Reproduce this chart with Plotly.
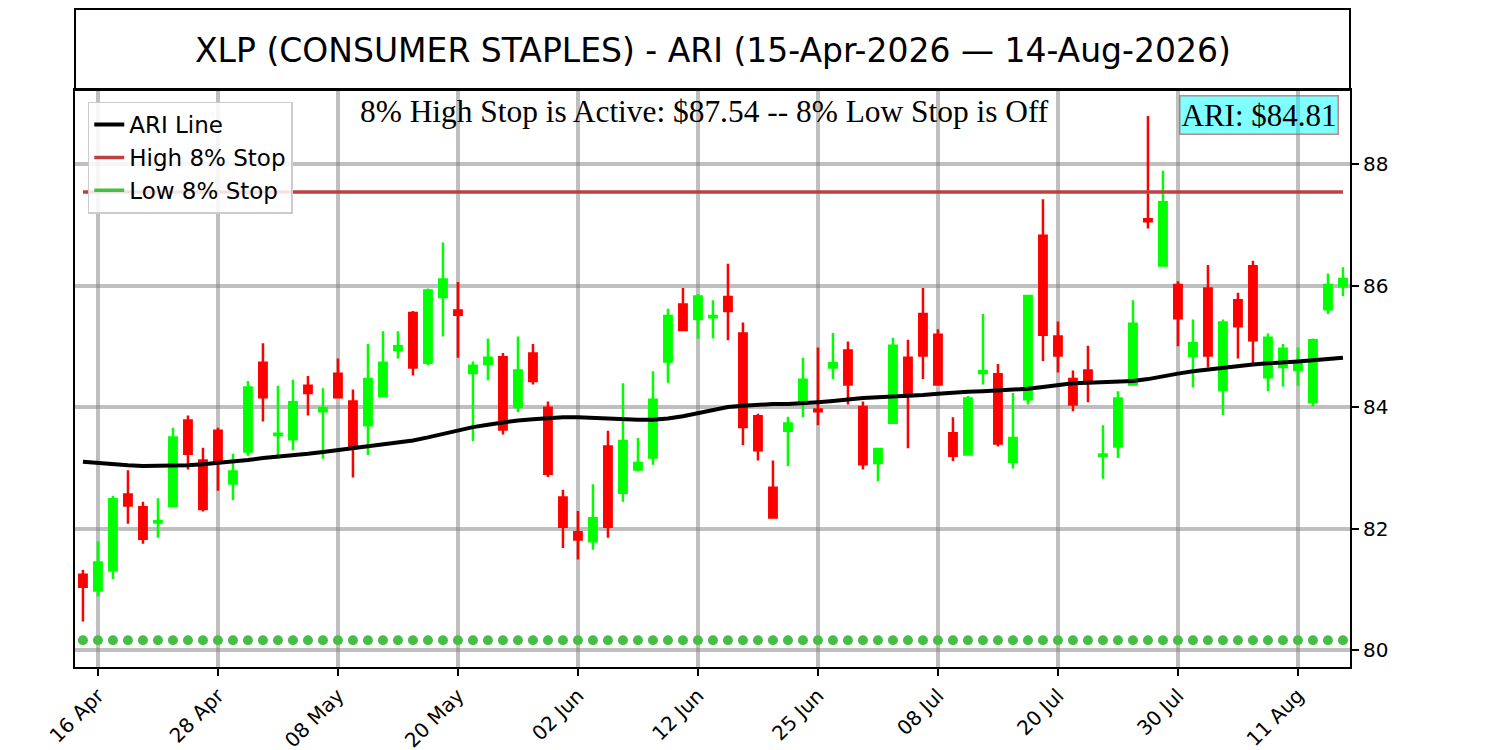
import plotly.graph_objects as go

dates = [
    "2026-04-15", "2026-04-16", "2026-04-17", "2026-04-20", "2026-04-21", "2026-04-22",
    "2026-04-23", "2026-04-24", "2026-04-27", "2026-04-28", "2026-04-29", "2026-04-30",
    "2026-05-01", "2026-05-04", "2026-05-05", "2026-05-06", "2026-05-07", "2026-05-08",
    "2026-05-11", "2026-05-12", "2026-05-13", "2026-05-14", "2026-05-15", "2026-05-18",
    "2026-05-19", "2026-05-20", "2026-05-21", "2026-05-22", "2026-05-26", "2026-05-27",
    "2026-05-28", "2026-05-29", "2026-06-01", "2026-06-02", "2026-06-03", "2026-06-04",
    "2026-06-05", "2026-06-08", "2026-06-09", "2026-06-10", "2026-06-11", "2026-06-12",
    "2026-06-15", "2026-06-16", "2026-06-17", "2026-06-18", "2026-06-22", "2026-06-23",
    "2026-06-24", "2026-06-25", "2026-06-26", "2026-06-29", "2026-06-30", "2026-07-01",
    "2026-07-02", "2026-07-06", "2026-07-07", "2026-07-08", "2026-07-09", "2026-07-10",
    "2026-07-13", "2026-07-14", "2026-07-15", "2026-07-16", "2026-07-17", "2026-07-20",
    "2026-07-21", "2026-07-22", "2026-07-23", "2026-07-24", "2026-07-27", "2026-07-28",
    "2026-07-29", "2026-07-30", "2026-07-31", "2026-08-03", "2026-08-04", "2026-08-05",
    "2026-08-06", "2026-08-07", "2026-08-10", "2026-08-11", "2026-08-12", "2026-08-13",
    "2026-08-14",
]

opens = [
    81.24, 80.98, 81.31, 82.56, 82.35, 82.10, 82.37, 83.78, 83.12, 83.61,
    82.74, 83.27, 84.73, 83.54, 83.47, 84.35, 83.93, 84.55, 84.09, 83.70,
    84.18, 84.94, 85.55, 84.73, 85.81, 85.59, 84.56, 84.71, 84.82, 84.00,
    84.88, 83.99, 82.51, 81.94, 81.79, 83.35, 82.59, 82.97, 83.17, 84.75,
    85.69, 85.45, 85.48, 85.81, 85.21, 83.85, 82.67, 83.61, 84.06, 83.96,
    84.65, 84.93, 84.00, 83.08, 83.74, 84.81, 85.53, 85.19, 83.57, 83.22,
    84.56, 84.54, 83.10, 84.13, 86.82, 85.16, 84.46, 84.60, 83.20, 83.35,
    84.37, 87.09, 86.33, 86.01, 84.84, 85.95, 84.28, 85.76, 86.32, 84.49,
    84.66, 84.61, 84.08, 85.61, 85.99,
]
highs = [
    81.32, 81.79, 82.54, 82.96, 82.44, 82.50, 83.66, 83.86, 83.33, 83.66,
    83.23, 84.43, 85.05, 84.35, 84.45, 84.51, 84.31, 84.80, 84.29, 85.04,
    85.25, 85.25, 85.58, 85.95, 86.71, 86.06, 84.75, 85.13, 84.89, 85.16,
    85.04, 84.09, 82.64, 82.29, 82.73, 83.61, 84.39, 83.49, 84.59, 85.62,
    85.96, 85.86, 85.76, 86.36, 85.39, 83.89, 83.12, 83.84, 84.81, 84.98,
    85.22, 85.08, 84.09, 83.31, 85.14, 85.11, 85.96, 85.28, 83.83, 84.18,
    85.53, 84.71, 84.23, 85.83, 87.42, 85.41, 84.60, 85.01, 83.70, 84.26,
    85.76, 88.79, 87.89, 86.07, 85.44, 86.34, 85.44, 85.88, 86.41, 85.21,
    85.04, 84.98, 85.13, 86.20, 86.30,
]
lows = [
    80.47, 80.88, 81.17, 82.08, 81.75, 81.85, 82.35, 82.97, 82.28, 82.62,
    82.47, 83.20, 83.76, 83.15, 83.29, 83.86, 83.15, 84.15, 82.84, 83.21,
    84.16, 84.80, 84.52, 84.69, 85.16, 84.81, 83.44, 84.44, 83.55, 83.92,
    84.37, 82.85, 81.68, 81.49, 81.65, 81.85, 82.44, 82.94, 83.05, 84.40,
    85.25, 85.13, 85.13, 85.10, 83.37, 83.12, 82.16, 83.03, 83.83, 83.70,
    84.46, 84.04, 82.97, 82.78, 83.73, 83.32, 84.46, 84.35, 83.11, 83.20,
    84.37, 83.35, 82.99, 84.04, 84.76, 84.57, 83.93, 84.08, 82.82, 83.16,
    84.36, 86.94, 86.32, 85.00, 84.32, 84.65, 83.87, 84.80, 84.71, 84.26,
    84.34, 84.35, 84.01, 85.53, 85.83,
]
closes = [
    81.04, 81.44, 82.48, 82.38, 81.83, 82.12, 83.50, 83.23, 82.32, 83.11,
    82.94, 84.32, 84.16, 83.56, 84.08, 84.23, 83.98, 84.16, 83.35, 84.46,
    84.73, 85.00, 84.65, 85.92, 86.10, 85.52, 84.68, 84.81, 83.63, 84.60,
    84.43, 82.90, 82.03, 81.82, 82.17, 82.03, 83.44, 83.08, 84.12, 85.50,
    85.27, 85.82, 85.50, 85.58, 83.67, 83.29, 82.18, 83.73, 84.45, 83.93,
    84.72, 84.37, 83.06, 83.31, 85.01, 84.18, 84.85, 84.37, 83.20, 84.14,
    84.59, 83.40, 83.49, 85.83, 85.19, 84.85, 84.04, 84.40, 83.22, 84.14,
    85.37, 87.06, 87.37, 85.46, 85.05, 84.85, 85.39, 85.33, 85.10, 85.14,
    84.96, 84.71, 85.10, 86.01, 86.11,
]
ari_line = [
    83.10, 83.08, 83.05, 83.04, 83.03, 83.03, 83.03, 83.04, 83.06, 83.08,
    83.10, 83.13, 83.16, 83.18, 83.20, 83.23, 83.26, 83.29, 83.32, 83.35,
    83.38, 83.41, 83.45, 83.50, 83.56, 83.62, 83.67, 83.71, 83.75, 83.78,
    83.80, 83.82, 83.83, 83.83, 83.82, 83.80, 83.79, 83.79, 83.79, 83.81,
    83.85, 83.90, 83.95, 84.00, 84.02, 84.04, 84.05, 84.05, 84.06, 84.08,
    84.10, 84.13, 84.15, 84.16, 84.17, 84.18, 84.20, 84.22, 84.24, 84.25,
    84.26, 84.27, 84.28, 84.30, 84.33, 84.36, 84.39, 84.40, 84.41, 84.42,
    84.43, 84.46, 84.51, 84.55, 84.59, 84.62, 84.65, 84.68, 84.70, 84.72,
    84.73, 84.75, 84.77, 84.79, 84.81,
]
high_stop = 87.54
low_stop = 80.16
ari_value = 84.81

tick_dates = ["2026-04-16", "2026-04-28", "2026-05-08", "2026-05-20", "2026-06-02",
              "2026-06-12", "2026-06-25", "2026-07-08", "2026-07-20", "2026-07-30",
              "2026-08-11"]
tick_labels = ["16 Apr", "28 Apr", "08 May", "20 May", "02 Jun", "12 Jun", "25 Jun",
               "08 Jul", "20 Jul", "30 Jul", "11 Aug"]
y_ticks = [80, 82, 84, 86, 88]

title_text = "XLP (CONSUMER STAPLES) - ARI (15-Apr-2026 \u2014 14-Aug-2026)"
status_text = "8% High Stop is Active: $87.54 -- 8% Low Stop is Off"

fig = go.Figure()

fig.add_trace(go.Candlestick(
    x=dates, open=opens, high=highs, low=lows, close=closes,
    increasing=dict(line=dict(color="#00ff00", width=2.5), fillcolor="#00ff00"),
    decreasing=dict(line=dict(color="#ff0000", width=2.5), fillcolor="#ff0000"),
    showlegend=False, hoverinfo="skip",
))

fig.add_trace(go.Scatter(
    x=dates, y=ari_line, mode="lines", name="ARI Line",
    line=dict(color="black", width=4),
))
fig.add_trace(go.Scatter(
    x=dates, y=[high_stop] * len(dates), mode="lines", name="High 8% Stop",
    line=dict(color="#bf4040", width=3.5),
))
fig.add_trace(go.Scatter(
    x=dates, y=[low_stop] * len(dates), mode="markers", name="Low 8% Stop",
    marker=dict(color="#46be46", size=10), showlegend=False,
))
fig.add_trace(go.Scatter(
    x=[None], y=[None], mode="lines", name="Low 8% Stop",
    line=dict(color="#46be46", width=3.5),
))

grid_col = "rgba(128,128,128,0.5)"
fig.update_layout(
    width=1492, height=742,
    margin=dict(l=67, r=150, t=82, b=83),
    paper_bgcolor="white", plot_bgcolor="white",
    font=dict(family="DejaVu Sans", color="black"),
    showlegend=True,
    legend=dict(
        x=0.01, y=0.98, xanchor="left", yanchor="top",
        bgcolor="rgba(255,255,255,0.85)", bordercolor="#cccccc", borderwidth=1.5,
        font=dict(size=23, family="DejaVu Sans"),
        itemwidth=30, tracegroupgap=0,
    ),
    xaxis=dict(
        type="category", categoryorder="array", categoryarray=dates,
        range=[-0.53, 84.47], automargin=False,
        rangeslider=dict(visible=False),
        tickmode="array", tickvals=tick_dates, ticktext=tick_labels,
        tickangle=-45, tickfont=dict(size=20),
        ticks="outside", ticklen=7, tickwidth=1.5, tickcolor="black",
        showgrid=True, gridcolor=grid_col, gridwidth=3.5,
        showline=True, linecolor="black", linewidth=2, mirror=True,
        zeroline=False,
    ),
    yaxis=dict(
        side="right", range=[79.72, 89.22], automargin=False,
        tickmode="array", tickvals=y_ticks, ticktext=[str(v) for v in y_ticks],
        tickfont=dict(size=20),
        ticks="outside", ticklen=7, tickwidth=1.5, tickcolor="black",
        showgrid=True, gridcolor=grid_col, gridwidth=3.5,
        showline=True, linecolor="black", linewidth=2, mirror=True,
        zeroline=False,
    ),
    shapes=[dict(
        type="rect", xref="paper", yref="paper",
        x0=0, x1=1, y0=1, y1=1.1404,
        line=dict(color="black", width=2), fillcolor="rgba(0,0,0,0)",
    )],
    annotations=[
        dict(text=title_text, xref="paper", yref="paper", x=0.5, y=1.0693,
             xanchor="center", yanchor="middle", showarrow=False,
             font=dict(size=33, family="DejaVu Sans", color="black")),
        dict(text=status_text, xref="paper", yref="paper", x=0.494, y=0.997,
             xanchor="center", yanchor="top", showarrow=False,
             font=dict(size=31.4, family="Liberation Serif", color="black")),
        dict(text="ARI: $%.2f" % ari_value, xref="paper", yref="paper", x=0.991, y=0.992,
             xanchor="right", yanchor="top", showarrow=False,
             font=dict(size=31, family="Liberation Serif", color="black"),
             bgcolor="rgba(0,255,255,0.5)", bordercolor="rgba(180,90,90,0.7)",
             borderwidth=1.5, borderpad=1),
    ],
)

fig.write_html("out.html")
